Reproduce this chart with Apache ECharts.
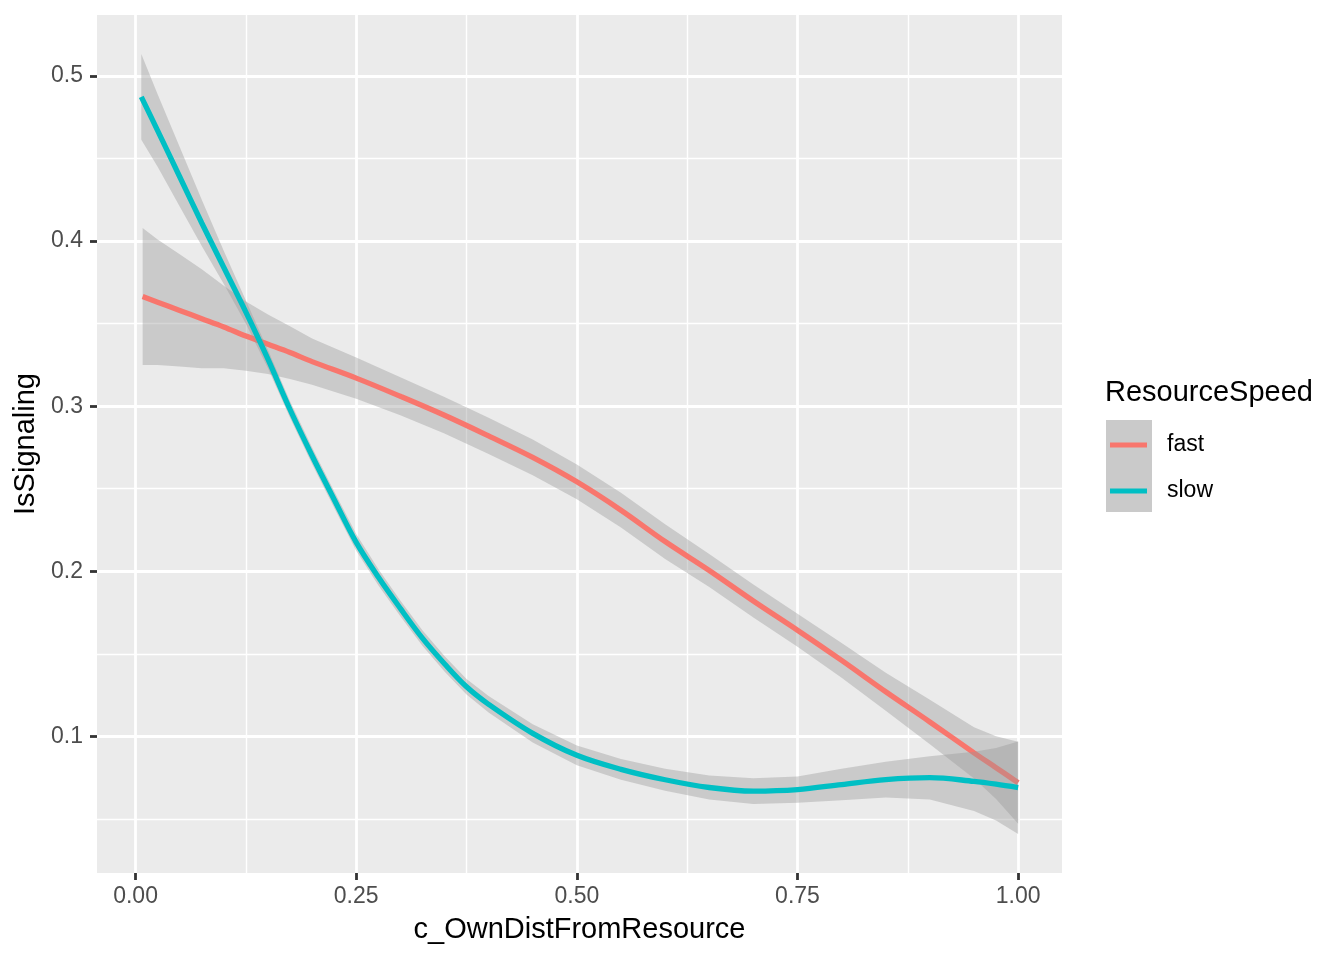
<!DOCTYPE html>
<html><head><meta charset="utf-8">
<script src="https://cdn.jsdelivr.net/npm/echarts@6/dist/echarts.min.js"></script>
<style>html,body{margin:0;padding:0;background:#fff}#chart{width:1344px;height:960px}</style>
</head><body><div id="chart"></div>
<script>
// ---- ticks ----
const xTicks = [0, 0.25, 0.5, 0.75, 1];
const xTickLabels = ['0.00', '0.25', '0.50', '0.75', '1.00'];
const xMinorTicks = [0.125, 0.375, 0.625, 0.875];
const yTicks = [0.1, 0.2, 0.3, 0.4, 0.5];
const yTickLabels = ['0.1', '0.2', '0.3', '0.4', '0.5'];
const yMinorTicks = [0.05, 0.15, 0.25, 0.35, 0.45];

// ---- series: fast ----
const fastX = [0.008, 0.025, 0.05, 0.075, 0.1, 0.125, 0.15, 0.175, 0.2, 0.25, 0.3, 0.35, 0.4, 0.45, 0.5, 0.55, 0.6, 0.65, 0.7, 0.75, 0.8, 0.85, 0.9, 0.95, 0.975, 1.0];
const fastY = [0.3664, 0.363, 0.358, 0.353, 0.348, 0.3425, 0.3375, 0.3325, 0.327, 0.317, 0.306, 0.2945, 0.282, 0.269, 0.2542, 0.237, 0.218, 0.2005, 0.182, 0.1643, 0.146, 0.127, 0.1087, 0.090, 0.081, 0.0719];
const fastLower = [0.3249, 0.325, 0.324, 0.323, 0.323, 0.3215, 0.3195, 0.3165, 0.313, 0.3045, 0.2945, 0.2835, 0.271, 0.2582, 0.2437, 0.2265, 0.2075, 0.1905, 0.172, 0.1543, 0.1355, 0.1155, 0.0952, 0.0745, 0.062, 0.0471];
const fastUpper = [0.4079, 0.401, 0.392, 0.383, 0.373, 0.3635, 0.3555, 0.3485, 0.341, 0.3295, 0.3175, 0.3055, 0.293, 0.2798, 0.2647, 0.2475, 0.2285, 0.2105, 0.192, 0.1743, 0.1565, 0.1385, 0.1222, 0.1055, 0.100, 0.0967];

// ---- series: slow ----
const slowX = [0.0065, 0.025, 0.05, 0.075, 0.1, 0.125, 0.15, 0.175, 0.2, 0.225, 0.25, 0.275, 0.3, 0.325, 0.35, 0.375, 0.4, 0.45, 0.5, 0.55, 0.6, 0.65, 0.7, 0.75, 0.8, 0.85, 0.9, 0.95, 0.975, 1.0];
const slowY = [0.4874, 0.467, 0.439, 0.411, 0.384, 0.357, 0.3285, 0.298, 0.270, 0.2435, 0.2175, 0.1965, 0.1775, 0.1595, 0.1440, 0.1300, 0.1194, 0.1018, 0.0885, 0.0800, 0.0737, 0.0690, 0.0668, 0.0677, 0.0708, 0.0738, 0.0750, 0.0727, 0.0710, 0.0689];
const slowLower = [0.4614, 0.445, 0.421, 0.397, 0.374, 0.350, 0.323, 0.293, 0.265, 0.2385, 0.2125, 0.1916, 0.1727, 0.1548, 0.1393, 0.1253, 0.1144, 0.0963, 0.0825, 0.0737, 0.0671, 0.0618, 0.0590, 0.0597, 0.0613, 0.0630, 0.0618, 0.0547, 0.0490, 0.0409];
const slowUpper = [0.5134, 0.489, 0.457, 0.425, 0.394, 0.364, 0.334, 0.303, 0.275, 0.2485, 0.2225, 0.2014, 0.1823, 0.1642, 0.1487, 0.1347, 0.1244, 0.1073, 0.0945, 0.0863, 0.0803, 0.0762, 0.0746, 0.0757, 0.0803, 0.0846, 0.0880, 0.0907, 0.0930, 0.0969];

const groups = ['fast', 'slow'];
const FONT = '"Liberation Sans", Arial, Helvetica, sans-serif';
const colors = { fast: '#F8766D', slow: '#00BFC4' };

function pairs(xs, ys) { return xs.map((x, i) => [x, ys[i]]); }
function lookup(v, ticks, labels) {
  for (let i = 0; i < ticks.length; i++) if (Math.abs(v - ticks[i]) < 1e-9) return labels[i];
  return '';
}
function ribbon(xs, lo, hi, z) {
  return {
    type: 'custom', coordinateSystem: 'cartesian2d', xAxisIndex: 0, yAxisIndex: 0,
    z: z, silent: true, clip: true,
    data: [[xs[0], hi[0]]],
    encode: { x: 0, y: 1 },
    renderItem: function (params, api) {
      const pts = [];
      for (let i = 0; i < xs.length; i++) pts.push(api.coord([xs[i], hi[i]]));
      for (let i = xs.length - 1; i >= 0; i--) pts.push(api.coord([xs[i], lo[i]]));
      return { type: 'polygon', shape: { points: pts }, style: { fill: 'rgba(153,153,153,0.4)', stroke: null } };
    }
  };
}
function line(name, xs, ys, z) {
  return {
    name: name, type: 'line', xAxisIndex: 0, yAxisIndex: 0, z: z,
    data: pairs(xs, ys), showSymbol: false, symbol: 'none', smooth: 0.35,
    color: colors[name],
    itemStyle: { color: colors[name] },
    lineStyle: { color: colors[name], width: 5.3, cap: 'butt' },
    silent: true
  };
}

const XMIN = -0.0437, XMAX = 1.0497, YMIN = 0.0172, YMAX = 0.537;

const option = {
  animation: false,
  backgroundColor: '#ffffff',
  grid: { left: 97, right: 282, top: 15, bottom: 87, show: true, backgroundColor: '#EBEBEB', borderWidth: 0, containLabel: false, outerBoundsMode: 'none' },
  xAxis: [
    {
      type: 'value', gridIndex: 0, min: XMIN, max: XMAX, position: 'bottom',
      name: 'c_OwnDistFromResource', nameLocation: 'middle', nameGap: 42,
      nameTextStyle: { fontFamily: FONT, fontSize: 29, color: '#000000' },
      axisLine: { show: false, onZero: false },
      axisTick: { show: true, customValues: xTicks, length: 7, lineStyle: { color: '#333333', width: 2.8 } },
      axisLabel: { customValues: xTicks, formatter: v => lookup(v, xTicks, xTickLabels), margin: 12, fontSize: 23, color: '#4D4D4D', fontFamily: FONT },
      splitLine: { show: true, lineStyle: { color: '#ffffff', width: 2.8 } }
    },
    {
      type: 'value', gridIndex: 0, min: XMIN, max: XMAX, position: 'bottom',
      axisLine: { show: false, onZero: false }, axisLabel: { show: false },
      axisTick: { show: false, customValues: xMinorTicks },
      splitLine: { show: true, lineStyle: { color: '#ffffff', width: 1.4 } }
    }
  ],
  yAxis: [
    {
      type: 'value', gridIndex: 0, min: YMIN, max: YMAX, position: 'left',
      name: 'IsSignaling', nameLocation: 'middle', nameGap: 47,
      nameTextStyle: { fontFamily: FONT, fontSize: 29, color: '#000000' },
      axisLine: { show: false, onZero: false },
      axisTick: { show: true, customValues: yTicks, length: 7, lineStyle: { color: '#333333', width: 2.8 } },
      axisLabel: { customValues: yTicks, formatter: v => lookup(v, yTicks, yTickLabels), margin: 14, fontSize: 23, color: '#4D4D4D', fontFamily: FONT },
      splitLine: { show: true, lineStyle: { color: '#ffffff', width: 2.8 } }
    },
    {
      type: 'value', gridIndex: 0, min: YMIN, max: YMAX, position: 'left',
      axisLine: { show: false, onZero: false }, axisLabel: { show: false },
      axisTick: { show: false, customValues: yMinorTicks },
      splitLine: { show: true, lineStyle: { color: '#ffffff', width: 1.4 } }
    }
  ],
  legend: {
    data: groups, orient: 'vertical', left: 1110, top: 433.5, padding: 0,
    itemWidth: 37, itemHeight: 5, itemGap: 23, icon: 'rect', selectedMode: false,
    textStyle: { fontSize: 23, color: '#000000', fontFamily: FONT, padding: [0, 0, 0, 15], lineHeight: 23 }
  },
  graphic: [
    { type: 'rect', z: 0, shape: { x: 1106, y: 420, width: 46, height: 92 }, style: { fill: '#CACACA' } },
    { type: 'text', z: 5, x: 1105, y: 393, style: { text: 'ResourceSpeed', fontSize: 29, fontFamily: FONT, fill: '#000000', verticalAlign: 'middle', align: 'left' } }
  ],
  series: [
    ribbon(fastX, fastLower, fastUpper, 3),
    line('fast', fastX, fastY, 4),
    ribbon(slowX, slowLower, slowUpper, 5),
    line('slow', slowX, slowY, 6)
  ]
};

const chart = echarts.init(document.getElementById('chart'), null, { renderer: 'canvas' });
chart.setOption(option);
</script>
</body></html>
